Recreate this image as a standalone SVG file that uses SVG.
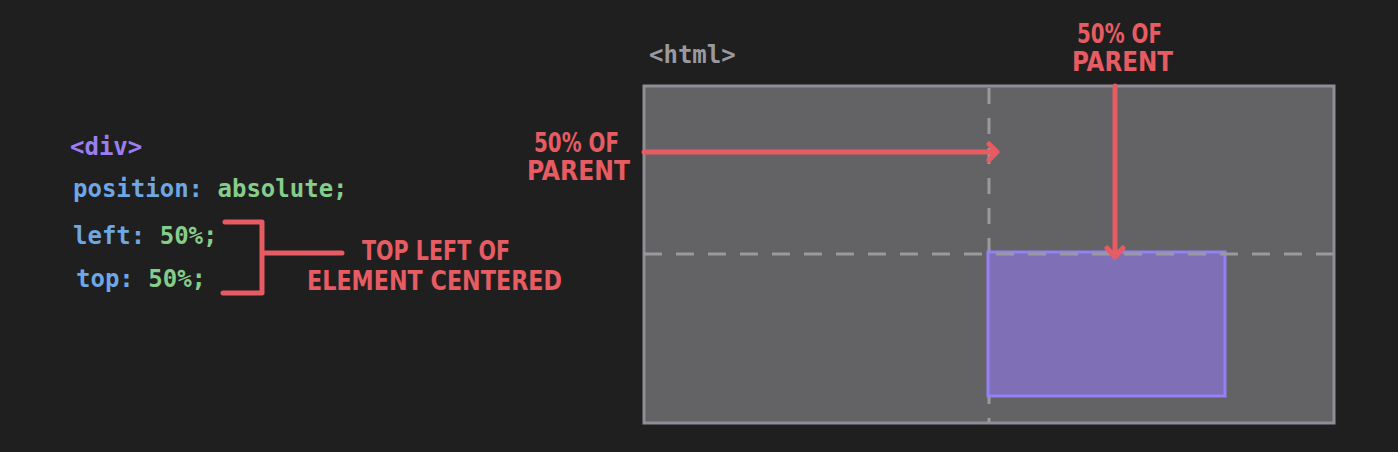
<svg xmlns="http://www.w3.org/2000/svg" width="1398" height="452" viewBox="0 0 1398 452">
<defs>
<style>
.code{font-family:"DejaVu Sans Mono","Liberation Mono",monospace;font-size:24px;font-weight:bold}
.kw{fill:#6ea7e3}
.val{fill:#86cc8a}
.tag{fill:#9b7ef0}
.hand{font-family:"Liberation Sans Narrow","DejaVu Sans Condensed","Liberation Sans",sans-serif;font-size:26px;font-weight:bold;fill:#e65c62}
.red{stroke:#e65c62;stroke-width:5;fill:none;stroke-linecap:round;stroke-linejoin:round}
.dash{stroke:#9a9a9e;stroke-width:3;fill:none}
</style>
</defs>
<rect width="1398" height="452" fill="#1f1f20"/>

<g id="code">
<text class="code tag" x="70" y="155">&lt;div&gt;</text>
<text class="code" x="73" y="197"><tspan class="kw">position:</tspan><tspan class="val"> absolute;</tspan></text>
<text class="code" x="73" y="244"><tspan class="kw">left:</tspan><tspan class="val"> 50%;</tspan></text>
<text class="code" x="76" y="287"><tspan class="kw">top:</tspan><tspan class="val"> 50%;</tspan></text>
</g>

<g id="bracket">
<path class="red" d="M225,222 H262 V293 H223 M262,253 H342"/>
<text class="hand" x="362" y="260" textLength="148" lengthAdjust="spacingAndGlyphs">TOP LEFT OF</text>
<text class="hand" x="307" y="290" textLength="255" lengthAdjust="spacingAndGlyphs">ELEMENT CENTERED</text>
</g>

<g id="html">
<text class="code" x="649" y="63" fill="#9a9a9e">&lt;html&gt;</text>
<rect x="644" y="86" width="690" height="337" fill="#636366" stroke="#8f8e95" stroke-width="3"/>
<line class="dash" x1="989" y1="88" x2="989" y2="422" stroke-dasharray="16 14"/>
</g>

<g id="div-element">
<rect x="988" y="252" width="237" height="144" fill="#7f6fb7" stroke="#9580f5" stroke-width="3"/>
</g>

<g id="guides">
<line class="dash" x1="644" y1="254" x2="1333" y2="254" stroke-dasharray="18 14"/>
</g>

<g id="connectors">
<path class="red" d="M644,152 H996 M989,144 L997,152 L989,160"/>
<path class="red" d="M1115,86 V256 M1107,248 L1115,257 L1123,248"/>
</g>

<g id="labels">
<text class="hand" x="534" y="152" textLength="85" lengthAdjust="spacingAndGlyphs">50% OF</text>
<text class="hand" x="527" y="180" textLength="103" lengthAdjust="spacingAndGlyphs">PARENT</text>
<text class="hand" x="1077" y="43" textLength="85" lengthAdjust="spacingAndGlyphs">50% OF</text>
<text class="hand" x="1072" y="71" textLength="101" lengthAdjust="spacingAndGlyphs">PARENT</text>
</g>
</svg>
